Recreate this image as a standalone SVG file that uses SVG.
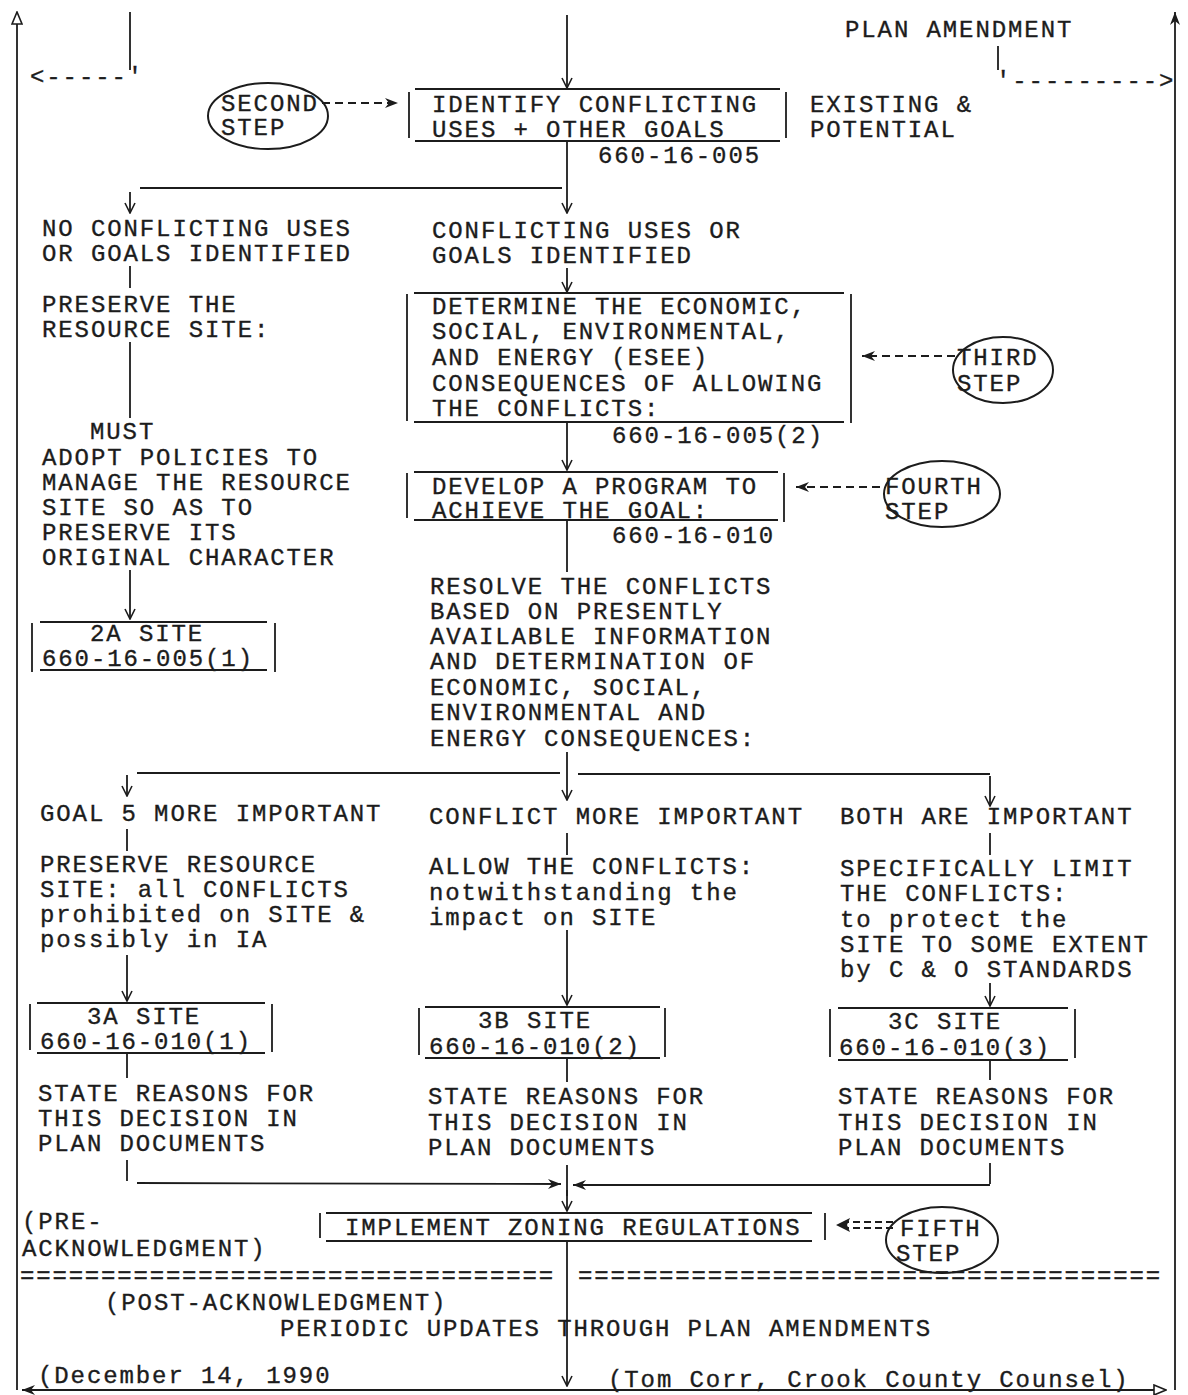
<svg xmlns="http://www.w3.org/2000/svg" width="1188" height="1395" viewBox="0 0 1188 1395">
<style>
.t{font-family:"Liberation Mono","DejaVu Sans Mono",monospace;font-size:24px;letter-spacing:1.9px;fill:#1c1c1c;stroke:#1c1c1c;stroke-width:0.35}
.ln{stroke:#1c1c1c;stroke-width:1.8;fill:none}
.bx{stroke:#1c1c1c;stroke-width:1.8;fill:none}
.ds{stroke:#1c1c1c;stroke-width:1.8;fill:none;stroke-dasharray:8,5}
.el{stroke:#1c1c1c;stroke-width:2;fill:none}
</style>
<defs>
<marker id="av" viewBox="0 0 12 12" refX="11" refY="6" markerWidth="12" markerHeight="12" markerUnits="userSpaceOnUse" orient="auto"><path d="M1,1 L11,6 L1,11" fill="none" stroke="#1c1c1c" stroke-width="1.6"/></marker>
<marker id="af" viewBox="0 0 14 12" refX="13" refY="6" markerWidth="14" markerHeight="12" markerUnits="userSpaceOnUse" orient="auto"><path d="M0,1 L13,6 L0,11 L4,6 Z" fill="#1c1c1c"/></marker>
<marker id="ao" viewBox="0 0 14 12" refX="13" refY="6" markerWidth="14" markerHeight="12" markerUnits="userSpaceOnUse" orient="auto"><path d="M1,1 L13,6 L1,11 Z" fill="#fff" stroke="#1c1c1c" stroke-width="1.6"/></marker>
</defs>
<rect width="1188" height="1395" fill="#fff"/>

<g id="connectors">
<line class="ln" x1="567" y1="1390" x2="22" y2="1390" marker-end="url(#af)"/>
<line class="ln" x1="17" y1="1390" x2="17" y2="12" marker-end="url(#ao)"/>
<line class="ln" x1="567" y1="1390" x2="1166" y2="1390" marker-end="url(#ao)"/>
<line class="ln" x1="1175" y1="1390" x2="1175" y2="12" marker-end="url(#af)"/>
<line class="ln" x1="130" y1="12" x2="130" y2="70"/>
<line class="ln" x1="998" y1="46" x2="998" y2="70"/>
<line class="ln" x1="567" y1="15" x2="567" y2="88" marker-end="url(#av)"/>
<line class="ds" x1="322" y1="103" x2="398" y2="103" marker-end="url(#af)"/>
<line class="ln" x1="567" y1="141" x2="567" y2="213" marker-end="url(#av)"/>
<line class="ln" x1="140" y1="188" x2="562" y2="188"/>
<line class="ln" x1="130" y1="192" x2="130" y2="213" marker-end="url(#av)"/>
<line class="ln" x1="130" y1="266" x2="130" y2="288"/>
<line class="ln" x1="130" y1="342" x2="130" y2="418"/>
<line class="ln" x1="130" y1="570" x2="130" y2="619" marker-end="url(#av)"/>
<line class="ln" x1="567" y1="268" x2="567" y2="292" marker-end="url(#av)"/>
<line class="ds" x1="955" y1="356" x2="862" y2="356" marker-end="url(#af)"/>
<line class="ln" x1="567" y1="422" x2="567" y2="470" marker-end="url(#av)"/>
<line class="ds" x1="880" y1="487" x2="796" y2="487" marker-end="url(#af)"/>
<line class="ln" x1="567" y1="520" x2="567" y2="572"/>
<line class="ln" x1="567" y1="752" x2="567" y2="800" marker-end="url(#av)"/>
<line class="ln" x1="137" y1="773" x2="560" y2="773"/>
<line class="ln" x1="578" y1="774" x2="990" y2="774"/>
<line class="ln" x1="127" y1="775" x2="127" y2="796" marker-end="url(#av)"/>
<line class="ln" x1="990" y1="776" x2="990" y2="806" marker-end="url(#av)"/>
<line class="ln" x1="127" y1="829" x2="127" y2="851"/>
<line class="ln" x1="127" y1="955" x2="127" y2="1001" marker-end="url(#av)"/>
<line class="ln" x1="127" y1="1053" x2="127" y2="1078"/>
<line class="ln" x1="127" y1="1160" x2="127" y2="1181"/>
<line class="ln" x1="567" y1="833" x2="567" y2="855"/>
<line class="ln" x1="567" y1="930" x2="567" y2="1005" marker-end="url(#av)"/>
<line class="ln" x1="567" y1="1058" x2="567" y2="1082"/>
<line class="ln" x1="567" y1="1165" x2="567" y2="1196"/>
<line class="ln" x1="990" y1="833" x2="990" y2="855"/>
<line class="ln" x1="990" y1="983" x2="990" y2="1006" marker-end="url(#av)"/>
<line class="ln" x1="990" y1="1060" x2="990" y2="1080"/>
<line class="ln" x1="990" y1="1163" x2="990" y2="1184"/>
<line class="ln" x1="137" y1="1183" x2="561" y2="1184" marker-end="url(#af)"/>
<line class="ln" x1="990" y1="1185" x2="573" y2="1185" marker-end="url(#af)"/>
<line class="ln" x1="567" y1="1190" x2="567" y2="1211" marker-end="url(#av)"/>
<line class="ds" x1="893" y1="1222" x2="846" y2="1222" style="stroke-dasharray:7,4"/>
<line class="ds" x1="893" y1="1228" x2="846" y2="1228" style="stroke-dasharray:7,4"/>
<path d="M836,1225 L850,1218 L847,1225 L850,1232 Z" fill="#1c1c1c"/>
<line class="ln" x1="567" y1="1241" x2="567" y2="1386" marker-end="url(#av)"/>
</g>

<g id="top-left-return"><text class="t" x="30" y="84">&lt;-----'</text></g>
<g id="plan-amendment">
<text class="t" x="845" y="37">PLAN AMENDMENT</text>
<text class="t" x="996" y="88">'---------&gt;</text>
</g>

<g id="second-step">
<ellipse class="el" cx="268" cy="116" rx="60" ry="33"/>
<text class="t" x="221" y="111">SECOND</text>
<text class="t" x="221" y="135">STEP</text>
</g>

<g id="identify">
<line class="bx" x1="415" y1="89" x2="780" y2="89"/>
<line class="bx" x1="415" y1="141" x2="780" y2="141"/>
<line class="bx" x1="409" y1="92" x2="409" y2="138"/>
<line class="bx" x1="786" y1="92" x2="786" y2="138"/>
<text class="t" x="432" y="112">IDENTIFY CONFLICTING</text>
<text class="t" x="432" y="137">USES + OTHER GOALS</text>
<text class="t" x="598" y="163">660-16-005</text>
</g>

<g id="existing"><text class="t" x="810" y="112">EXISTING &amp;</text><text class="t" x="810" y="137">POTENTIAL</text></g>

<g id="no-conflict">
<text class="t" x="42" y="236">NO CONFLICTING USES</text>
<text class="t" x="42" y="261">OR GOALS IDENTIFIED</text>
</g>
<g id="preserve">
<text class="t" x="42" y="312">PRESERVE THE</text>
<text class="t" x="42" y="337">RESOURCE SITE:</text>
</g>
<g id="must">
<text class="t" x="90" y="439">MUST</text>
<text class="t" x="42" y="465">ADOPT POLICIES TO</text>
<text class="t" x="42" y="490">MANAGE THE RESOURCE</text>
<text class="t" x="42" y="515">SITE SO AS TO</text>
<text class="t" x="42" y="540">PRESERVE ITS</text>
<text class="t" x="42" y="565">ORIGINAL CHARACTER</text>
</g>
<g id="site-2a">
<line class="bx" x1="40" y1="622" x2="267" y2="622"/>
<line class="bx" x1="40" y1="670" x2="267" y2="670"/>
<line class="bx" x1="32" y1="623" x2="32" y2="672"/>
<line class="bx" x1="275" y1="623" x2="275" y2="672"/>
<text class="t" x="90" y="641">2A SITE</text>
<text class="t" x="42" y="666">660-16-005(1)</text>
</g>

<g id="conflicting">
<text class="t" x="432" y="238">CONFLICTING USES OR</text>
<text class="t" x="432" y="263">GOALS IDENTIFIED</text>
</g>
<g id="determine">
<line class="bx" x1="414" y1="293" x2="844" y2="293"/>
<line class="bx" x1="414" y1="422" x2="844" y2="422"/>
<line class="bx" x1="407" y1="294" x2="407" y2="421"/>
<line class="bx" x1="851" y1="294" x2="851" y2="423"/>
<text class="t" x="432" y="314">DETERMINE THE ECONOMIC,</text>
<text class="t" x="432" y="339">SOCIAL, ENVIRONMENTAL,</text>
<text class="t" x="432" y="365">AND ENERGY (ESEE)</text>
<text class="t" x="432" y="391">CONSEQUENCES OF ALLOWING</text>
<text class="t" x="432" y="416">THE CONFLICTS:</text>
<text class="t" x="612" y="443">660-16-005(2)</text>
</g>
<g id="third-step">
<ellipse class="el" cx="1003" cy="370" rx="50" ry="33"/>
<text class="t" x="957" y="365">THIRD</text>
<text class="t" x="957" y="391">STEP</text>
</g>
<g id="develop">
<line class="bx" x1="414" y1="472" x2="778" y2="472"/>
<line class="bx" x1="414" y1="520" x2="778" y2="520"/>
<line class="bx" x1="407" y1="473" x2="407" y2="518"/>
<line class="bx" x1="784" y1="473" x2="784" y2="522"/>
<text class="t" x="432" y="494">DEVELOP A PROGRAM TO</text>
<text class="t" x="432" y="518">ACHIEVE THE GOAL:</text>
<text class="t" x="612" y="543">660-16-010</text>
</g>
<g id="fourth-step">
<ellipse class="el" cx="942" cy="494" rx="58" ry="33"/>
<text class="t" x="885" y="494">FOURTH</text>
<text class="t" x="885" y="519">STEP</text>
</g>
<g id="resolve">
<text class="t" x="430" y="594">RESOLVE THE CONFLICTS</text>
<text class="t" x="430" y="619">BASED ON PRESENTLY</text>
<text class="t" x="430" y="644">AVAILABLE INFORMATION</text>
<text class="t" x="430" y="669">AND DETERMINATION OF</text>
<text class="t" x="430" y="695">ECONOMIC, SOCIAL,</text>
<text class="t" x="430" y="720">ENVIRONMENTAL AND</text>
<text class="t" x="430" y="746">ENERGY CONSEQUENCES:</text>
</g>

<g id="goal5">
<text class="t" x="40" y="821">GOAL 5 MORE IMPORTANT</text>
<text class="t" x="40" y="872">PRESERVE RESOURCE</text>
<text class="t" x="40" y="897">SITE: all CONFLICTS</text>
<text class="t" x="40" y="922">prohibited on SITE &amp;</text>
<text class="t" x="40" y="947">possibly in IA</text>
</g>
<g id="site-3a">
<line class="bx" x1="37" y1="1003" x2="265" y2="1003"/>
<line class="bx" x1="37" y1="1053" x2="265" y2="1053"/>
<line class="bx" x1="30" y1="1004" x2="30" y2="1050"/>
<line class="bx" x1="272" y1="1004" x2="272" y2="1052"/>
<text class="t" x="87" y="1024">3A SITE</text>
<text class="t" x="40" y="1049">660-16-010(1)</text>
</g>
<g id="reasons-a">
<text class="t" x="38" y="1101">STATE REASONS FOR</text>
<text class="t" x="38" y="1126">THIS DECISION IN</text>
<text class="t" x="38" y="1151">PLAN DOCUMENTS</text>
</g>

<g id="conflict-more">
<text class="t" x="429" y="824">CONFLICT MORE IMPORTANT</text>
<text class="t" x="429" y="874">ALLOW THE CONFLICTS:</text>
<text class="t" x="429" y="900">notwithstanding the</text>
<text class="t" x="429" y="925">impact on SITE</text>
</g>
<g id="site-3b">
<line class="bx" x1="425" y1="1007" x2="660" y2="1007"/>
<line class="bx" x1="425" y1="1058" x2="660" y2="1058"/>
<line class="bx" x1="419" y1="1008" x2="419" y2="1055"/>
<line class="bx" x1="665" y1="1008" x2="665" y2="1057"/>
<text class="t" x="478" y="1028">3B SITE</text>
<text class="t" x="429" y="1054">660-16-010(2)</text>
</g>
<g id="reasons-b">
<text class="t" x="428" y="1104">STATE REASONS FOR</text>
<text class="t" x="428" y="1130">THIS DECISION IN</text>
<text class="t" x="428" y="1155">PLAN DOCUMENTS</text>
</g>

<g id="both">
<text class="t" x="840" y="824">BOTH ARE IMPORTANT</text>
<text class="t" x="840" y="876">SPECIFICALLY LIMIT</text>
<text class="t" x="840" y="901">THE CONFLICTS:</text>
<text class="t" x="840" y="927">to protect the</text>
<text class="t" x="840" y="952">SITE TO SOME EXTENT</text>
<text class="t" x="840" y="977">by C &amp; O STANDARDS</text>
</g>
<g id="site-3c">
<line class="bx" x1="838" y1="1008" x2="1068" y2="1008"/>
<line class="bx" x1="838" y1="1060" x2="1068" y2="1060"/>
<line class="bx" x1="830" y1="1009" x2="830" y2="1057"/>
<line class="bx" x1="1075" y1="1009" x2="1075" y2="1058"/>
<text class="t" x="888" y="1029">3C SITE</text>
<text class="t" x="839" y="1055">660-16-010(3)</text>
</g>
<g id="reasons-c">
<text class="t" x="838" y="1104">STATE REASONS FOR</text>
<text class="t" x="838" y="1130">THIS DECISION IN</text>
<text class="t" x="838" y="1155">PLAN DOCUMENTS</text>
</g>

<g id="implement">
<line class="bx" x1="326" y1="1213" x2="812" y2="1213"/>
<line class="bx" x1="326" y1="1241" x2="812" y2="1241"/>
<line class="bx" x1="320" y1="1213" x2="320" y2="1238"/>
<line class="bx" x1="825" y1="1213" x2="825" y2="1240"/>
<text class="t" x="345" y="1235">IMPLEMENT ZONING REGULATIONS</text>
</g>
<g id="fifth-step">
<ellipse class="el" cx="942" cy="1240" rx="56" ry="33"/>
<text class="t" x="900" y="1236">FIFTH</text>
<text class="t" x="896" y="1261">STEP</text>
</g>
<g id="pre-ack">
<text class="t" x="22" y="1229">(PRE-</text>
<text class="t" x="22" y="1256">ACKNOWLEDGMENT)</text>
</g>
<g id="divider">
<text class="t" x="20" y="1283" textLength="535" lengthAdjust="spacing">=================================</text>
<text class="t" x="578" y="1283" textLength="584" lengthAdjust="spacing">====================================</text>
</g>
<g id="post-ack">
<text class="t" x="105" y="1310">(POST-ACKNOWLEDGMENT)</text>
<text class="t" x="280" y="1336">PERIODIC UPDATES THROUGH PLAN AMENDMENTS</text>
</g>
<g id="footer">
<text class="t" x="38" y="1383">(December 14, 1990</text>
<text class="t" x="608" y="1387">(Tom Corr, Crook County Counsel)</text>
</g>
</svg>
